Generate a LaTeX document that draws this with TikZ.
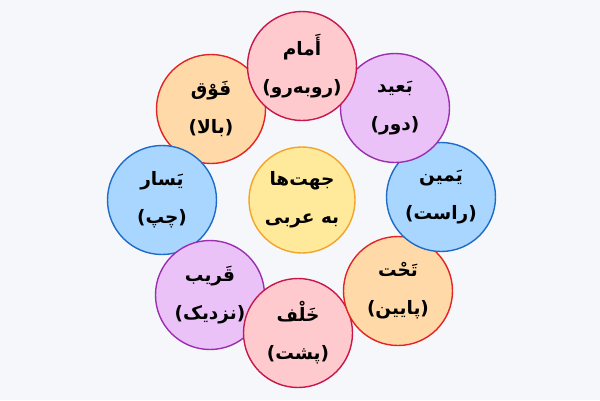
\documentclass[tikz,border=0pt]{standalone}
\usepackage{fontspec}
\TeXXeTstate=1
\newfontfamily\arabicfont[Script=Arabic]{DejaVu Sans}
\newcommand{\artext}[1]{{\arabicfont\bfseries\beginR #1\endR}}
\definecolor{bgcol}{HTML}{F5F7FA}
\definecolor{pinkfill}{HTML}{FFCACE}
\definecolor{pinkline}{HTML}{C8174A}
\definecolor{lilacfill}{HTML}{EBC2F7}
\definecolor{lilacline}{HTML}{9C2FB0}
\definecolor{bluefill}{HTML}{A8D6FF}
\definecolor{blueline}{HTML}{1E6CC6}
\definecolor{peachfill}{HTML}{FFD9A8}
\definecolor{peachline}{HTML}{E32424}
\definecolor{yellowfill}{HTML}{FFE99A}
\definecolor{yellowline}{HTML}{F2A52A}

\begin{document}
\begin{tikzpicture}[x=1pt, y=-1pt,
    dir/.style={circle, line width=1.4pt, minimum size=109pt, inner sep=0pt, align=center,
                font=\fontsize{18.5}{38}\selectfont},
    pinkdir/.style={dir, fill=pinkfill, draw=pinkline},
    lilacdir/.style={dir, fill=lilacfill, draw=lilacline},
    bluedir/.style={dir, fill=bluefill, draw=blueline},
    peachdir/.style={dir, fill=peachfill, draw=peachline},
    hub/.style={dir, minimum size=106pt, fill=yellowfill, draw=yellowline}]

    \fill[bgcol] (0,0) rectangle (600,400);
    \useasboundingbox (0,0) rectangle (600,400);

    % ring of directions
    \node[peachdir] (fawq) at (211,109) {\artext{فَوْق}\\\artext{(بالا)}};
    \node[bluedir] (yasar) at (162,200) {\artext{یَسار}\\\artext{(چپ)}};
    \node[lilacdir] (qarib) at (210,295) {\artext{قَریب}\\\artext{(نزدیک)}};
    \node[pinkdir] (khalf) at (298,333) {\artext{خَلْف}\\\artext{(پشت)}};
    \node[peachdir] (taht) at (398,291) {\artext{تَحْت}\\\artext{(پایین)}};
    \node[bluedir] (yamin) at (441,197) {\artext{یَمین}\\\artext{(راست)}};
    \node[lilacdir] (baid) at (395,108) {\artext{بَعید}\\\artext{(دور)}};
    \node[pinkdir] (amam) at (302,66) {\artext{أَمام}\\\artext{(روبه‌رو)}};

    % centre
    \node[hub] (jahat) at (302,200) {\artext{جهت‌ها}\\\artext{به عربی}};

\end{tikzpicture}
\end{document}
